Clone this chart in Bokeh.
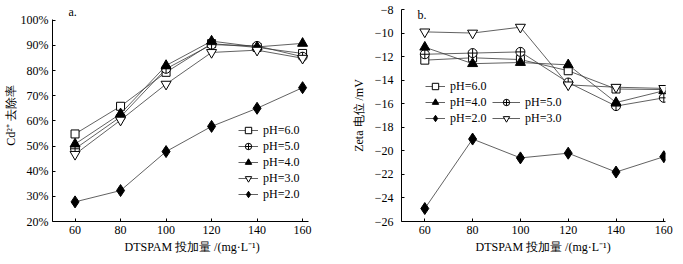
from bokeh.plotting import figure
from bokeh.layouts import row
from bokeh.models import (FixedTicker, PrintfTickFormatter, CustomJSTickFormatter,
                          Legend, LegendItem, Label, Range1d, Title)
from bokeh.embed import file_html
from bokeh.resources import INLINE

# ---------------- data ----------------
dosage = [60, 80, 100, 120, 140, 160]

# (a) Cd2+ removal rate, %
rem_ph6 = [54.8, 65.8, 79.3, 90.7, 89.2, 86.8]
rem_ph5 = [48.9, 61.6, 80.7, 90.3, 89.8, 85.5]
rem_ph4 = [50.8, 62.8, 82.0, 91.7, 89.4, 90.8]
rem_ph3 = [46.7, 60.3, 74.6, 87.2, 88.1, 84.9]
rem_ph2 = [27.8, 32.3, 47.8, 57.8, 65.0, 73.2]

# (b) Zeta potential, mV
zeta_ph6 = [-12.3, -12.1, -12.25, -13.2, -14.75, -14.8]
zeta_ph5 = [-11.8, -11.7, -11.6, -14.2, -16.2, -15.5]
zeta_ph4 = [-11.2, -12.6, -12.5, -12.7, -15.9, -14.9]
zeta_ph3 = [-9.9, -10.0, -9.5, -14.4, -14.6, -14.7]
zeta_ph2 = [-24.9, -19.0, -20.6, -20.2, -21.8, -20.5]

x_ticks = [60, 80, 100, 120, 140, 160]
a_y_ticks = [20, 30, 40, 50, 60, 70, 80, 90, 100]
b_y_ticks = [-26, -24, -22, -20, -18, -16, -14, -12, -10, -8]

labels = ["pH=6.0", "pH=5.0", "pH=4.0", "pH=3.0", "pH=2.0"]

FONT = "Liberation Serif"
XLABEL = "DTSPAM 投加量 /(mg·L⁻¹)"
A_YLABEL = "Cd²⁺ 去除率"
B_YLABEL = "Zeta 电位 /mV"

# marker styles: (marker, fill color, size)
styles = [("square", "white", 8), ("circle_cross", "white", 9), ("triangle", "black", 10),
          ("inverted_triangle", "white", 10), ("diamond", "black", 12)]


def style_axes(p, y_standoff, ylabel, ylabel_standoff):
    for ax in (p.xaxis[0], p.yaxis[0]):
        ax.axis_line_color = "black"
        ax.axis_line_width = 1
        ax.major_tick_in = 3
        ax.major_tick_out = 0
        ax.major_tick_line_color = "black"
        ax.minor_tick_line_color = None
        ax.major_label_text_font = FONT
        ax.major_label_text_font_size = "12px"
        ax.major_label_text_color = "black"
    p.xaxis[0].major_label_standoff = 4
    p.yaxis[0].major_label_standoff = y_standoff
    p.yaxis[0].axis_label = ylabel
    p.yaxis[0].axis_label_standoff = ylabel_standoff
    p.yaxis[0].axis_label_text_font = FONT
    p.yaxis[0].axis_label_text_font_size = "12px"
    p.yaxis[0].axis_label_text_font_style = "normal"
    p.yaxis[0].axis_label_text_color = "black"
    p.xgrid.visible = False
    p.ygrid.visible = False
    p.outline_line_color = None
    p.background_fill_color = "white"
    p.border_fill_color = "white"


def add_xlabel(p, offset):
    p.add_layout(Title(text=XLABEL, align="left", offset=offset, standoff=4,
                       vertical_align="middle",
                       text_font=FONT, text_font_size="12px", text_font_style="normal",
                       text_color="black"), "below")


def draw_series(p, ys_list):
    rends = []
    for ys, (mk, fill, sz) in zip(ys_list, styles):
        ln = p.line(dosage, ys, line_color="#3a3a3a", line_width=0.8)
        sc = p.scatter(dosage, ys, marker=mk, size=sz,
                       fill_color=fill, line_color="black", line_width=1)
        rends.append([ln, sc])
    return rends


def make_legend(items, loc, gw=20):
    return Legend(items=items, location=loc, orientation="vertical",
                  background_fill_alpha=0, border_line_color=None,
                  padding=0, margin=0, spacing=0,
                  glyph_width=gw, glyph_height=16, label_height=16,
                  label_standoff=5,
                  label_text_font=FONT, label_text_font_size="12px",
                  label_text_color="black")


def panel_label(p, x, y, text):
    p.add_layout(Label(x=x, y=y, x_units="screen", y_units="screen", text=text,
                       text_align="left", text_baseline="middle",
                       text_font=FONT, text_font_size="12px", text_color="black"))


# ---------------- panel a ----------------
pa = figure(width=340, height=264, output_backend="svg", toolbar_location=None,
            x_range=Range1d(50.09, 162.6), y_range=Range1d(20, 104.27),
            min_border_left=47, min_border_right=32, min_border_top=5, min_border_bottom=42)
style_axes(pa, 4, A_YLABEL, 0)
pa.yaxis[0].bounds = (20, 100.4)
pa.xaxis[0].ticker = FixedTicker(ticks=x_ticks)
pa.yaxis[0].ticker = FixedTicker(ticks=a_y_ticks)
pa.yaxis[0].formatter = PrintfTickFormatter(format="%d%%")
add_xlabel(pa, 72)

ra = draw_series(pa, [rem_ph6, rem_ph5, rem_ph4, rem_ph3, rem_ph2])
pa.add_layout(make_legend([LegendItem(label=l, renderers=r) for l, r in zip(labels, ra)], (186, 19)))
panel_label(pa, 16, 210, "a.")

# ---------------- panel b ----------------
pb = figure(width=343, height=264, output_backend="svg", toolbar_location=None,
            x_range=Range1d(50.25, 160.7), y_range=Range1d(-26, -8),
            min_border_left=61, min_border_right=18, min_border_top=9, min_border_bottom=43)
style_axes(pb, 8, B_YLABEL, 6)
pb.xaxis[0].ticker = FixedTicker(ticks=x_ticks)
pb.yaxis[0].ticker = FixedTicker(ticks=b_y_ticks)
pb.yaxis[0].formatter = CustomJSTickFormatter(code="return tick < 0 ? '\u2212' + Math.abs(tick) : String(tick);")
add_xlabel(pb, 74)

rb = draw_series(pb, [zeta_ph6, zeta_ph5, zeta_ph4, zeta_ph3, zeta_ph2])
pb.add_layout(make_legend([LegendItem(label=labels[0], renderers=rb[0]),
                           LegendItem(label=labels[2], renderers=rb[2]),
                           LegendItem(label=labels[4], renderers=rb[4])], (24, 95)))
pb.add_layout(make_legend([LegendItem(label=labels[1], renderers=rb[1]),
                           LegendItem(label=labels[3], renderers=rb[3])], (91, 95), gw=28))
panel_label(pb, 16, 207, "b.")

layout = row(pa, pb, spacing=0)
open("out.html", "w").write(file_html(layout, INLINE))
